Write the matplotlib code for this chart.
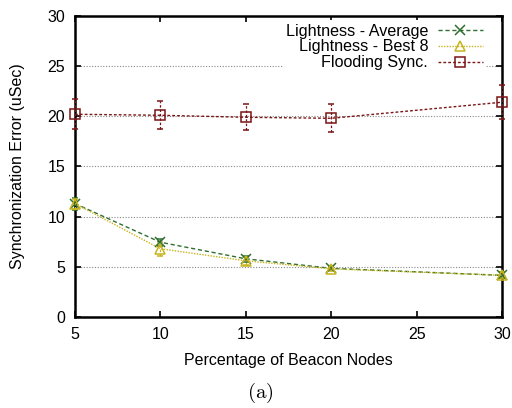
import matplotlib.pyplot as plt

plt.rcParams['font.family'] = ['Liberation Sans', 'DejaVu Sans']
plt.rcParams['mathtext.fontset'] = 'cm'

# beacon node percentages and sync error (uSec)
beacon_pct = [5, 10, 15, 20, 30]
avg_err = [11.3, 7.45, 5.8, 4.85, 4.15]
avg_dev = [0.6, 0.35, 0.3, 0.2, 0.3]
best8_err = [11.3, 6.8, 5.6, 4.8, 4.15]
best8_dev = [0.5, 0.7, 0.4, 0.25, 0.3]
flood_err = [20.2, 20.1, 19.9, 19.8, 21.4]
flood_dev = [1.5, 1.4, 1.3, 1.4, 1.7]

fig = plt.figure(figsize=(5.12, 4.08), dpi=100)
ax = fig.add_axes([0.1465, 0.223, 0.834, 0.738])

series = [
    ("Lightness - Average", avg_err, avg_dev, "#2f6f2f", "x", (0, (3, 2))),
    ("Lightness - Best 8", best8_err, best8_dev, "#c8b41e", "^", (0, (1, 1))),
    ("Flooding Sync.", flood_err, flood_dev, "#7a1515", "s", (0, (2, 1.5))),
]
handles = []
for label, ys, dev, col, mk, ls in series:
    lines = ax.errorbar(beacon_pct, ys, yerr=dev, color=col, ls=ls, lw=1,
                        marker=mk, ms=7 if mk == "s" else 6.5, mfc="none",
                        mec=col, mew=1.1, capsize=2.5, elinewidth=0.9,
                        label=label, clip_on=False, zorder=3)
    for bar in lines[2]:
        bar.set_linestyle((0, (2, 1.5)))
        bar.set_clip_on(False)
    for cap in lines[1]:
        cap.set_clip_on(False)
    handles.append(lines[0])

ax.set_xlim(5, 30)
ax.set_ylim(0, 30)
ax.set_xticks([5, 10, 15, 20, 25, 30])
ax.set_yticks([0, 5, 10, 15, 20, 25, 30])
ax.yaxis.grid(True, color="#888888", ls=(0, (1, 1.5)), lw=0.8)
ax.tick_params(direction="in", top=True, right=True, length=4, width=1.2,
               labelsize=11.5, pad=7)
for sp in ax.spines.values():
    sp.set_linewidth(1.8)

ax.set_xlabel("Percentage of Beacon Nodes", fontsize=11.5, labelpad=8)
ax.set_ylabel("Synchronization Error (uSec)", fontsize=11.5, labelpad=16)

leg = ax.legend(handles=handles, labels=[s[0] for s in series],
                loc="upper right", bbox_to_anchor=(0.963, 0.985),
                markerfirst=False, frameon=True, fontsize=11.6,
                handlelength=2.8, handletextpad=0.6, labelspacing=0.05,
                borderpad=0.2, borderaxespad=0)
leg.get_frame().set_edgecolor("none")
leg.get_frame().set_facecolor("white")
leg.get_frame().set_alpha(1)
leg._legend_box._children[-1]._children[0].align = "right"

fig.text(0.508, 0.037, r"$\mathrm{(a)}$", ha="center", va="center", fontsize=15)

fig.savefig("out.png", dpi=100)
